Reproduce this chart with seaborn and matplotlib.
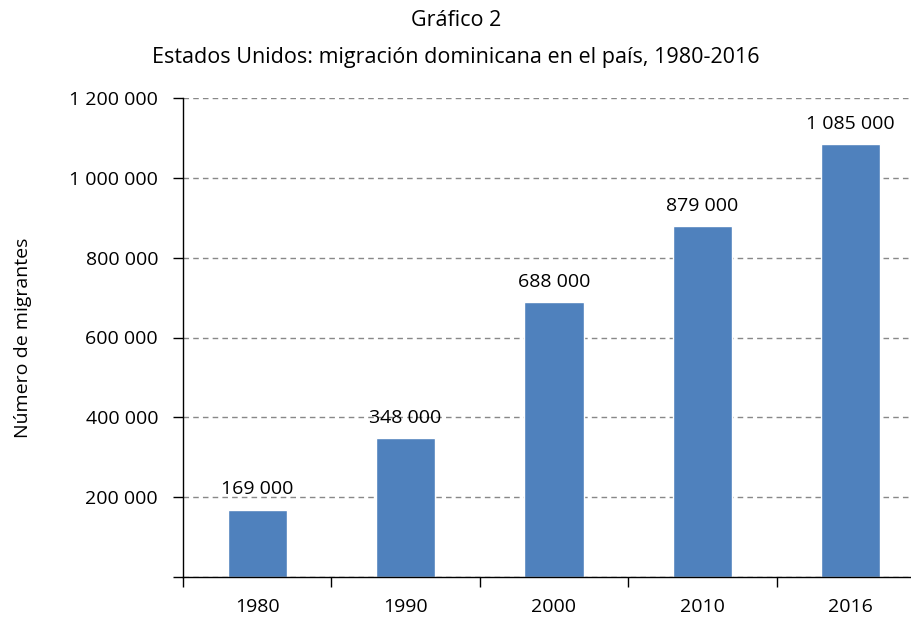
import matplotlib
matplotlib.use('Agg')
import matplotlib.pyplot as plt
import seaborn as sns
import pandas as pd
import numpy as np
from matplotlib.ticker import FuncFormatter, FixedLocator

years = ['1980', '1990', '2000', '2010', '2016']
migrantes = [169000, 348000, 688000, 879000, 1085000]
yticks = [0, 200000, 400000, 600000, 800000, 1000000, 1200000]

df = pd.DataFrame({'year': years, 'migrantes': migrantes})

sns.set_style('white')
plt.rcParams['font.family'] = ['Open Sans', 'DejaVu Sans']
plt.rcParams['text.color'] = 'black'
plt.rcParams['xtick.color'] = 'black'
plt.rcParams['ytick.color'] = 'black'
plt.rcParams['axes.labelcolor'] = 'black'


def fmt(v, pos=None):
    if v == 0:
        return ''
    return f'{int(v):,}'.replace(',', ' ')


fig = plt.figure(figsize=(9.12, 6.18), dpi=100)
ax = fig.add_axes([183 / 912, 41 / 618, 742 / 912, 479 / 618])

sns.barplot(data=df, x='year', y='migrantes', color='#4F81BD', saturation=1,
            width=0.4, ax=ax)

ax.set_xlim(-0.5, 4.5)
ax.set_ylim(0, 1200000)
ax.set_yticks(yticks)
ax.yaxis.set_major_formatter(FuncFormatter(fmt))
ax.yaxis.grid(True, linestyle=(0, (4, 3)), color='#888888', linewidth=1)
ax.set_axisbelow(True)

# x ticks sit between the categories
ax.xaxis.set_minor_locator(FixedLocator(np.arange(-0.5, 5, 1)))
ax.tick_params(axis='x', which='major', bottom=True, length=0, pad=15, labelsize=14)
ax.tick_params(axis='x', which='minor', bottom=True, length=7, width=1, direction='out')
ax.tick_params(axis='y', left=True, length=7, width=1, direction='out', labelsize=14, pad=11)

for s in ['top', 'right']:
    ax.spines[s].set_visible(False)
for s in ['left', 'bottom']:
    ax.spines[s].set_color('black')
    ax.spines[s].set_linewidth(1)

ax.set_xlabel('')
ax.set_ylabel('Número de migrantes', fontsize=14, labelpad=27)

for i, v in enumerate(migrantes):
    ax.annotate(fmt(v), (i, v), xytext=(0, 8), textcoords='offset points',
                ha='center', va='bottom', fontsize=14)

fig.text(0.5, 1 - 20 / 618, 'Gráfico 2', ha='center', va='center', fontsize=15.5)
fig.text(0.5, 1 - 57 / 618, 'Estados Unidos: migración dominicana en el país, 1980-2016',
         ha='center', va='center', fontsize=15.5)

fig.savefig('out.png', dpi=100)
